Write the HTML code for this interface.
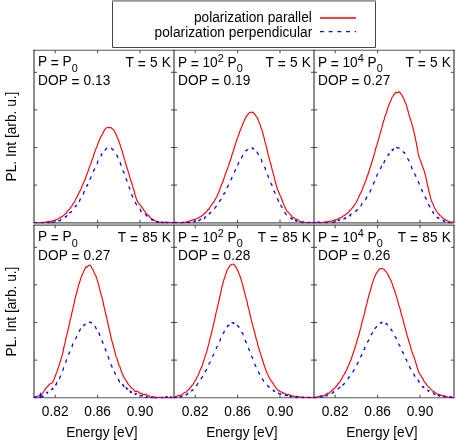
<!DOCTYPE html>
<html><head><meta charset="utf-8"><title>PL polarization</title>
<style>
html,body{margin:0;padding:0;background:#fff;}
svg{display:block;will-change:transform;}
text{font-family:"Liberation Sans",sans-serif;font-size:14.5px;fill:#000;}
.sub{font-size:11.5px;}
</style></head><body>
<svg width="463" height="445" viewBox="0 0 463 445">
<rect x="0" y="0" width="463" height="445" fill="#fff"/>
<defs>
<clipPath id="cr0"><rect x="34.0" y="50.2" width="420.0" height="173.10"/></clipPath>
<clipPath id="cr1"><rect x="34.0" y="225.2" width="420.0" height="173.10"/></clipPath>
</defs>
<g><rect x="34.0" y="223.0" width="420.0" height="1.9" fill="#c4c4c4"/><line x1="33.5" y1="50.2" x2="454.5" y2="50.2" stroke="#555" stroke-width="1.15"/><line x1="33.5" y1="222.7" x2="454.5" y2="222.7" stroke="#555" stroke-width="1.15"/><line x1="34.0" y1="49.800000000000004" x2="34.0" y2="223.1" stroke="#1a1a1a" stroke-width="1"/><line x1="174.0" y1="49.800000000000004" x2="174.0" y2="223.1" stroke="#1a1a1a" stroke-width="1"/><line x1="314.0" y1="49.800000000000004" x2="314.0" y2="223.1" stroke="#1a1a1a" stroke-width="1"/><line x1="454.0" y1="49.800000000000004" x2="454.0" y2="223.1" stroke="#1a1a1a" stroke-width="1"/><line x1="33.5" y1="225.2" x2="454.5" y2="225.2" stroke="#555" stroke-width="1.15"/><line x1="33.5" y1="397.7" x2="454.5" y2="397.7" stroke="#555" stroke-width="1.15"/><line x1="34.0" y1="224.79999999999998" x2="34.0" y2="398.09999999999997" stroke="#1a1a1a" stroke-width="1"/><line x1="174.0" y1="224.79999999999998" x2="174.0" y2="398.09999999999997" stroke="#1a1a1a" stroke-width="1"/><line x1="314.0" y1="224.79999999999998" x2="314.0" y2="398.09999999999997" stroke="#1a1a1a" stroke-width="1"/><line x1="454.0" y1="224.79999999999998" x2="454.0" y2="398.09999999999997" stroke="#1a1a1a" stroke-width="1"/></g>
<path d="M34.0,222.9 L34.5,222.7 L35.0,222.4 L35.5,222.6 L36.0,222.8 L36.5,222.7 L37.0,222.5 L37.5,222.6 L38.0,222.7 L38.5,222.8 L39.0,223.0 L39.5,222.8 L40.0,222.7 L40.5,222.8 L41.0,223.0 L41.5,222.7 L42.0,222.4 L42.5,222.5 L43.0,222.6 L43.5,222.4 L44.0,222.2 L44.5,222.3 L45.0,222.4 L45.5,222.2 L46.0,222.0 L46.5,221.9 L47.0,221.7 L47.5,221.8 L48.0,221.8 L48.5,221.9 L49.0,222.0 L49.5,221.5 L50.0,221.1 L50.5,221.2 L51.0,221.4 L51.5,221.2 L52.0,221.1 L52.5,220.9 L53.0,220.8 L53.5,220.6 L54.0,220.5 L54.5,220.2 L55.0,220.0 L55.5,219.9 L56.0,219.8 L56.5,219.5 L57.0,219.3 L57.5,219.2 L58.0,219.1 L58.5,218.6 L59.0,218.1 L59.5,218.0 L60.0,217.8 L60.5,217.3 L61.0,216.8 L61.5,216.9 L62.0,216.9 L62.5,216.4 L63.0,215.9 L63.5,215.5 L64.0,215.1 L64.5,214.5 L65.0,213.9 L65.5,213.9 L66.0,213.8 L66.5,212.9 L67.0,212.0 L67.5,211.2 L68.0,210.4 L68.5,210.0 L69.0,209.7 L69.5,209.2 L70.0,208.6 L70.5,207.7 L71.0,206.8 L71.5,206.3 L72.0,205.8 L72.5,204.8 L73.0,203.7 L73.5,203.3 L74.0,202.8 L74.5,201.9 L75.0,200.9 L75.5,199.7 L76.0,198.4 L76.5,197.8 L77.0,197.2 L77.5,196.0 L78.0,194.9 L78.5,193.8 L79.0,192.7 L79.5,191.8 L80.0,190.9 L80.5,189.9 L81.0,189.0 L81.5,187.6 L82.0,186.3 L82.5,185.1 L83.0,183.9 L83.5,182.8 L84.0,181.8 L84.5,180.8 L85.0,179.8 L85.5,178.3 L86.0,176.9 L86.5,175.5 L87.0,174.0 L87.5,172.8 L88.0,171.5 L88.5,169.9 L89.0,168.3 L89.5,167.0 L90.0,165.6 L90.5,164.4 L91.0,163.2 L91.5,161.6 L92.0,160.0 L92.5,158.8 L93.0,157.7 L93.5,155.9 L94.0,154.2 L94.5,152.7 L95.0,151.3 L95.5,149.9 L96.0,148.6 L96.5,147.5 L97.0,146.5 L97.5,144.9 L98.0,143.3 L98.5,142.2 L99.0,141.1 L99.5,139.9 L100.0,138.8 L100.5,137.5 L101.0,136.3 L101.5,135.6 L102.0,135.0 L102.5,134.0 L103.0,133.1 L103.5,132.0 L104.0,130.8 L104.5,130.1 L105.0,129.4 L105.5,128.5 L106.0,127.7 L106.5,127.7 L107.0,127.8 L107.5,127.7 L108.0,127.6 L108.5,127.6 L109.0,127.5 L109.5,127.6 L110.0,127.6 L110.5,127.6 L111.0,127.6 L111.5,128.0 L112.0,128.8 L112.5,129.1 L113.0,129.4 L113.5,129.8 L114.0,130.3 L114.5,131.2 L115.0,132.2 L115.5,133.1 L116.0,134.2 L116.5,135.5 L117.0,136.8 L117.5,137.8 L118.0,138.8 L118.5,140.2 L119.0,141.7 L119.5,143.1 L120.0,144.5 L120.5,146.2 L121.0,147.9 L121.5,149.3 L122.0,150.7 L122.5,152.4 L123.0,154.2 L123.5,155.9 L124.0,157.6 L124.5,159.2 L125.0,160.8 L125.5,162.8 L126.0,164.7 L126.5,166.2 L127.0,167.6 L127.5,169.3 L128.0,171.0 L128.5,172.6 L129.0,174.2 L129.5,176.2 L130.0,178.1 L130.5,179.7 L131.0,181.3 L131.5,182.5 L132.0,183.7 L132.5,185.7 L133.0,187.7 L133.5,189.0 L134.0,190.4 L134.5,192.5 L135.0,194.5 L135.5,196.2 L136.0,197.8 L136.5,199.2 L137.0,200.6 L137.5,201.3 L138.0,202.1 L138.5,202.8 L139.0,203.5 L139.5,204.2 L140.0,204.8 L140.5,205.5 L141.0,206.3 L141.5,206.7 L142.0,207.3 L142.5,208.1 L143.0,208.9 L143.5,209.6 L144.0,210.3 L144.5,210.9 L145.0,211.6 L145.5,212.5 L146.0,213.4 L146.5,213.9 L147.0,214.4 L147.5,214.7 L148.0,215.0 L148.5,215.4 L149.0,215.8 L149.5,216.6 L150.0,217.5 L150.5,217.9 L151.0,218.3 L151.5,218.5 L152.0,218.7 L152.5,219.4 L153.0,220.0 L153.5,219.9 L154.0,219.9 L154.5,220.3 L155.0,220.8 L155.5,221.0 L156.0,221.3 L156.5,221.4 L157.0,221.5 L157.5,221.5 L158.0,221.4 L158.5,221.8 L159.0,222.2 L159.5,222.3 L160.0,222.3 L160.5,222.4 L161.0,222.4 L161.5,222.8 L162.0,223.0 L162.5,223.0 L163.0,222.9 L163.5,222.6 L164.0,222.4 L164.5,222.3 L165.0,222.2 L165.5,222.4 L166.0,222.6 L166.5,222.7 L167.0,222.9 L167.5,223.0 L168.0,223.1 L168.5,222.7 L169.0,222.3 L169.5,222.3 L170.0,222.3 L170.5,222.4 L171.0,222.6 L171.5,222.8 L172.0,223.0 L172.5,223.2 L173.0,223.4 L173.5,223.1 L174.0,222.9" fill="none" stroke="#ff0000" stroke-width="1.15" stroke-linejoin="round" clip-path="url(#cr0)"/>
<path d="M34.0,222.9 L34.5,222.8 L35.0,223.0 L35.5,222.5 L36.0,222.6 L36.5,223.1 L37.0,222.8 L37.5,222.1 L38.0,222.5 L38.5,222.9 L39.0,222.8 L39.5,222.8 L40.0,223.2 L40.5,223.4 L41.0,222.8 L41.5,222.7 L42.0,223.4 L42.5,222.5 L43.0,223.2 L43.5,222.5 L44.0,222.7 L44.5,222.2 L45.0,222.8 L45.5,222.4 L46.0,222.6 L46.5,222.9 L47.0,222.3 L47.5,222.5 L48.0,222.4 L48.5,222.4 L49.0,223.3 L49.5,222.3 L50.0,223.5 L50.5,223.7 L51.0,221.7 L51.5,222.0 L52.0,222.9 L52.5,222.3 L53.0,222.1 L53.5,222.2 L54.0,222.1 L54.5,221.7 L55.0,221.5 L55.5,220.9 L56.0,221.4 L56.5,221.7 L57.0,221.9 L57.5,221.1 L58.0,220.8 L58.5,220.5 L59.0,220.7 L59.5,220.6 L60.0,220.8 L60.5,220.0 L61.0,219.2 L61.5,219.8 L62.0,219.2 L62.5,219.1 L63.0,218.9 L63.5,218.4 L64.0,217.8 L64.5,217.9 L65.0,217.7 L65.5,216.6 L66.0,216.8 L66.5,216.3 L67.0,215.7 L67.5,215.9 L68.0,215.4 L68.5,213.9 L69.0,214.8 L69.5,212.7 L70.0,212.7 L70.5,212.7 L71.0,212.2 L71.5,211.4 L72.0,210.6 L72.5,210.5 L73.0,209.3 L73.5,209.2 L74.0,208.7 L74.5,207.7 L75.0,206.9 L75.5,206.4 L76.0,205.3 L76.5,205.9 L77.0,204.5 L77.5,203.2 L78.0,203.4 L78.5,202.0 L79.0,201.7 L79.5,201.2 L80.0,199.6 L80.5,198.6 L81.0,198.1 L81.5,196.7 L82.0,196.7 L82.5,195.1 L83.0,194.2 L83.5,193.8 L84.0,191.7 L84.5,191.4 L85.0,190.0 L85.5,189.4 L86.0,188.3 L86.5,187.0 L87.0,185.1 L87.5,185.5 L88.0,183.2 L88.5,182.7 L89.0,181.5 L89.5,180.8 L90.0,179.3 L90.5,178.0 L91.0,177.3 L91.5,176.0 L92.0,175.2 L92.5,174.5 L93.0,172.6 L93.5,171.3 L94.0,170.0 L94.5,169.4 L95.0,167.8 L95.5,166.8 L96.0,165.5 L96.5,164.6 L97.0,164.0 L97.5,162.9 L98.0,160.9 L98.5,160.3 L99.0,159.2 L99.5,158.4 L100.0,157.4 L100.5,156.6 L101.0,156.0 L101.5,153.9 L102.0,154.6 L102.5,152.6 L103.0,152.3 L103.5,151.9 L104.0,150.9 L104.5,150.4 L105.0,150.3 L105.5,149.2 L106.0,149.0 L106.5,148.7 L107.0,148.0 L107.5,147.8 L108.0,148.1 L108.5,148.0 L109.0,147.6 L109.5,147.9 L110.0,147.4 L110.5,148.1 L111.0,148.1 L111.5,148.1 L112.0,149.0 L112.5,149.5 L113.0,149.8 L113.5,149.9 L114.0,150.3 L114.5,150.9 L115.0,152.5 L115.5,152.6 L116.0,153.6 L116.5,154.4 L117.0,155.5 L117.5,156.9 L118.0,157.5 L118.5,158.7 L119.0,160.0 L119.5,160.6 L120.0,161.8 L120.5,163.8 L121.0,165.0 L121.5,166.1 L122.0,167.1 L122.5,168.3 L123.0,170.7 L123.5,172.1 L124.0,172.3 L124.5,174.2 L125.0,176.3 L125.5,176.5 L126.0,178.0 L126.5,180.2 L127.0,180.9 L127.5,182.5 L128.0,184.3 L128.5,184.9 L129.0,187.0 L129.5,187.8 L130.0,190.4 L130.5,191.3 L131.0,193.1 L131.5,193.2 L132.0,195.5 L132.5,196.4 L133.0,197.6 L133.5,198.5 L134.0,199.7 L134.5,201.3 L135.0,202.0 L135.5,202.7 L136.0,203.9 L136.5,204.6 L137.0,205.8 L137.5,206.5 L138.0,207.2 L138.5,207.5 L139.0,208.8 L139.5,209.2 L140.0,209.2 L140.5,209.9 L141.0,211.6 L141.5,211.3 L142.0,212.0 L142.5,212.1 L143.0,212.9 L143.5,213.6 L144.0,213.7 L144.5,214.5 L145.0,214.3 L145.5,214.7 L146.0,214.8 L146.5,215.0 L147.0,216.2 L147.5,216.2 L148.0,217.2 L148.5,216.9 L149.0,217.5 L149.5,217.9 L150.0,218.0 L150.5,218.7 L151.0,219.0 L151.5,219.1 L152.0,220.2 L152.5,219.7 L153.0,219.8 L153.5,220.3 L154.0,220.5 L154.5,220.5 L155.0,220.2 L155.5,221.7 L156.0,221.6 L156.5,221.0 L157.0,222.4 L157.5,221.6 L158.0,222.4 L158.5,222.1 L159.0,221.9 L159.5,222.8 L160.0,222.2 L160.5,222.2 L161.0,223.3 L161.5,222.0 L162.0,222.2 L162.5,223.5 L163.0,222.1 L163.5,223.2 L164.0,223.2 L164.5,222.7 L165.0,222.9 L165.5,223.5 L166.0,222.0 L166.5,222.8 L167.0,222.3 L167.5,223.0 L168.0,222.6 L168.5,222.6 L169.0,222.1 L169.5,222.8 L170.0,222.5 L170.5,223.0 L171.0,222.3 L171.5,222.2 L172.0,222.7 L172.5,223.0 L173.0,222.5 L173.5,222.7 L174.0,222.6" fill="none" stroke="#0000ff" stroke-width="1.25" stroke-dasharray="3.6 5.1" stroke-linejoin="round" clip-path="url(#cr0)"/>
<path d="M174.0,223.2 L174.5,222.7 L175.0,222.1 L175.5,222.7 L176.0,223.2 L176.5,223.0 L177.0,222.7 L177.5,222.5 L178.0,222.3 L178.5,222.6 L179.0,222.9 L179.5,222.9 L180.0,222.9 L180.5,222.9 L181.0,222.9 L181.5,223.1 L182.0,223.2 L182.5,222.9 L183.0,222.5 L183.5,222.3 L184.0,222.1 L184.5,222.3 L185.0,222.4 L185.5,222.5 L186.0,222.5 L186.5,222.0 L187.0,221.5 L187.5,221.4 L188.0,221.2 L188.5,221.2 L189.0,221.2 L189.5,221.1 L190.0,221.1 L190.5,220.7 L191.0,220.3 L191.5,220.4 L192.0,220.4 L192.5,220.1 L193.0,219.8 L193.5,219.9 L194.0,219.9 L194.5,219.6 L195.0,219.3 L195.5,219.0 L196.0,218.8 L196.5,218.7 L197.0,218.6 L197.5,218.3 L198.0,218.0 L198.5,217.9 L199.0,217.7 L199.5,217.3 L200.0,217.0 L200.5,216.9 L201.0,216.8 L201.5,216.2 L202.0,215.6 L202.5,215.4 L203.0,215.2 L203.5,214.4 L204.0,213.5 L204.5,213.5 L205.0,213.4 L205.5,212.7 L206.0,212.1 L206.5,211.7 L207.0,211.3 L207.5,210.3 L208.0,209.4 L208.5,209.4 L209.0,209.5 L209.5,208.3 L210.0,207.2 L210.5,206.5 L211.0,205.9 L211.5,205.1 L212.0,204.3 L212.5,203.5 L213.0,202.6 L213.5,202.2 L214.0,201.9 L214.5,200.8 L215.0,199.6 L215.5,198.9 L216.0,198.0 L216.5,197.2 L217.0,196.4 L217.5,195.2 L218.0,193.9 L218.5,192.7 L219.0,191.5 L219.5,190.2 L220.0,188.8 L220.5,187.4 L221.0,185.9 L221.5,184.8 L222.0,183.7 L222.5,182.6 L223.0,181.6 L223.5,180.0 L224.0,178.4 L224.5,176.7 L225.0,175.0 L225.5,173.8 L226.0,172.5 L226.5,171.3 L227.0,170.1 L227.5,168.6 L228.0,167.1 L228.5,165.6 L229.0,164.2 L229.5,162.8 L230.0,161.4 L230.5,160.0 L231.0,158.5 L231.5,156.7 L232.0,154.9 L232.5,153.5 L233.0,152.1 L233.5,150.3 L234.0,148.5 L234.5,147.0 L235.0,145.6 L235.5,143.9 L236.0,142.2 L236.5,140.6 L237.0,139.0 L237.5,137.9 L238.0,136.7 L238.5,135.3 L239.0,134.0 L239.5,132.4 L240.0,130.9 L240.5,129.8 L241.0,128.7 L241.5,127.4 L242.0,126.1 L242.5,124.7 L243.0,123.4 L243.5,122.3 L244.0,121.3 L244.5,120.1 L245.0,119.0 L245.5,117.9 L246.0,116.9 L246.5,116.2 L247.0,115.5 L247.5,115.0 L248.0,114.5 L248.5,113.8 L249.0,113.2 L249.5,112.8 L250.0,112.4 L250.5,112.3 L251.0,112.2 L251.5,112.3 L252.0,112.4 L252.5,112.4 L253.0,112.4 L253.5,112.8 L254.0,113.3 L254.5,113.9 L255.0,114.6 L255.5,115.3 L256.0,116.0 L256.5,116.6 L257.0,117.2 L257.5,118.3 L258.0,119.5 L258.5,120.9 L259.0,122.3 L259.5,123.2 L260.0,124.2 L260.5,126.1 L261.0,127.9 L261.5,129.0 L262.0,130.1 L262.5,132.0 L263.0,133.9 L263.5,135.7 L264.0,137.4 L264.5,139.7 L265.0,141.9 L265.5,143.7 L266.0,145.4 L266.5,147.2 L267.0,149.0 L267.5,151.6 L268.0,154.1 L268.5,155.8 L269.0,157.5 L269.5,159.5 L270.0,161.4 L270.5,163.0 L271.0,164.7 L271.5,166.9 L272.0,169.2 L272.5,171.1 L273.0,172.9 L273.5,174.6 L274.0,176.2 L274.5,178.5 L275.0,180.7 L275.5,182.5 L276.0,184.4 L276.5,186.1 L277.0,187.7 L277.5,189.6 L278.0,190.6 L278.5,191.7 L279.0,192.8 L279.5,193.9 L280.0,195.2 L280.5,196.2 L281.0,197.2 L281.5,198.2 L282.0,199.7 L282.5,201.2 L283.0,202.6 L283.5,203.9 L284.0,205.1 L284.5,206.4 L285.0,207.6 L285.5,208.4 L286.0,209.1 L286.5,210.3 L287.0,211.2 L287.5,211.6 L288.0,212.0 L288.5,212.6 L289.0,213.2 L289.5,213.7 L290.0,214.2 L290.5,214.6 L291.0,215.0 L291.5,216.0 L292.0,217.0 L292.5,217.2 L293.0,217.4 L293.5,217.6 L294.0,217.8 L294.5,218.2 L295.0,218.6 L295.5,219.0 L296.0,219.3 L296.5,219.3 L297.0,219.3 L297.5,219.7 L298.0,220.1 L298.5,220.4 L299.0,220.7 L299.5,221.1 L300.0,221.5 L300.5,221.6 L301.0,221.8 L301.5,221.7 L302.0,221.7 L302.5,221.6 L303.0,221.6 L303.5,221.9 L304.0,222.3 L304.5,222.3 L305.0,222.4 L305.5,222.5 L306.0,222.6 L306.5,222.9 L307.0,223.2 L307.5,222.9 L308.0,222.6 L308.5,222.5 L309.0,222.4 L309.5,222.6 L310.0,222.8 L310.5,222.7 L311.0,222.6 L311.5,222.8 L312.0,223.0 L312.5,222.9 L313.0,222.8 L313.5,222.7 L314.0,222.6" fill="none" stroke="#ff0000" stroke-width="1.15" stroke-linejoin="round" clip-path="url(#cr0)"/>
<path d="M174.0,223.0 L174.5,222.8 L175.0,222.5 L175.5,222.9 L176.0,222.9 L176.5,222.9 L177.0,222.4 L177.5,222.7 L178.0,223.3 L178.5,222.6 L179.0,222.1 L179.5,222.4 L180.0,222.4 L180.5,223.0 L181.0,223.2 L181.5,222.9 L182.0,222.3 L182.5,222.8 L183.0,222.7 L183.5,222.5 L184.0,222.4 L184.5,223.5 L185.0,222.9 L185.5,222.5 L186.0,222.8 L186.5,222.3 L187.0,223.1 L187.5,222.6 L188.0,222.6 L188.5,222.7 L189.0,222.6 L189.5,222.2 L190.0,222.9 L190.5,222.0 L191.0,222.0 L191.5,222.5 L192.0,222.0 L192.5,221.5 L193.0,220.9 L193.5,221.4 L194.0,222.0 L194.5,221.0 L195.0,221.3 L195.5,220.7 L196.0,220.1 L196.5,220.3 L197.0,221.7 L197.5,220.3 L198.0,220.6 L198.5,220.7 L199.0,220.3 L199.5,220.6 L200.0,219.8 L200.5,219.3 L201.0,219.3 L201.5,219.2 L202.0,218.9 L202.5,219.4 L203.0,219.1 L203.5,219.3 L204.0,217.7 L204.5,218.7 L205.0,216.8 L205.5,217.0 L206.0,216.9 L206.5,215.5 L207.0,216.3 L207.5,215.4 L208.0,214.8 L208.5,214.5 L209.0,214.1 L209.5,213.2 L210.0,213.3 L210.5,212.5 L211.0,212.1 L211.5,211.9 L212.0,211.1 L212.5,210.9 L213.0,210.3 L213.5,209.9 L214.0,208.7 L214.5,208.8 L215.0,207.8 L215.5,207.2 L216.0,206.8 L216.5,205.4 L217.0,205.3 L217.5,204.3 L218.0,203.5 L218.5,203.2 L219.0,202.9 L219.5,201.8 L220.0,200.3 L220.5,200.1 L221.0,199.6 L221.5,198.4 L222.0,197.4 L222.5,196.8 L223.0,196.7 L223.5,195.0 L224.0,193.3 L224.5,193.5 L225.0,192.2 L225.5,190.3 L226.0,190.6 L226.5,189.3 L227.0,188.0 L227.5,187.0 L228.0,186.2 L228.5,184.8 L229.0,184.0 L229.5,183.2 L230.0,181.7 L230.5,180.9 L231.0,179.6 L231.5,178.8 L232.0,177.3 L232.5,176.2 L233.0,175.1 L233.5,174.4 L234.0,172.5 L234.5,172.0 L235.0,170.8 L235.5,169.9 L236.0,169.2 L236.5,166.7 L237.0,167.0 L237.5,166.5 L238.0,164.1 L238.5,162.7 L239.0,162.8 L239.5,161.8 L240.0,160.4 L240.5,160.4 L241.0,158.3 L241.5,157.9 L242.0,156.8 L242.5,155.7 L243.0,155.1 L243.5,154.2 L244.0,154.1 L244.5,152.8 L245.0,152.6 L245.5,152.0 L246.0,150.5 L246.5,150.7 L247.0,149.8 L247.5,149.8 L248.0,149.4 L248.5,148.6 L249.0,148.1 L249.5,148.7 L250.0,147.9 L250.5,147.8 L251.0,147.9 L251.5,147.9 L252.0,147.7 L252.5,148.2 L253.0,149.2 L253.5,148.5 L254.0,149.3 L254.5,148.8 L255.0,149.7 L255.5,150.3 L256.0,150.2 L256.5,151.1 L257.0,151.7 L257.5,153.0 L258.0,153.4 L258.5,154.7 L259.0,154.9 L259.5,156.1 L260.0,157.2 L260.5,158.4 L261.0,159.2 L261.5,159.9 L262.0,162.1 L262.5,162.5 L263.0,163.0 L263.5,165.0 L264.0,165.6 L264.5,167.0 L265.0,167.5 L265.5,169.4 L266.0,171.1 L266.5,171.9 L267.0,174.0 L267.5,174.1 L268.0,176.0 L268.5,177.5 L269.0,178.3 L269.5,179.0 L270.0,180.8 L270.5,181.6 L271.0,183.2 L271.5,184.4 L272.0,185.4 L272.5,187.3 L273.0,187.7 L273.5,189.8 L274.0,191.3 L274.5,191.6 L275.0,192.9 L275.5,194.0 L276.0,195.7 L276.5,197.2 L277.0,198.0 L277.5,198.7 L278.0,200.1 L278.5,201.4 L279.0,202.2 L279.5,201.4 L280.0,203.3 L280.5,204.5 L281.0,205.7 L281.5,206.6 L282.0,207.4 L282.5,208.8 L283.0,209.7 L283.5,210.3 L284.0,210.9 L284.5,212.7 L285.0,212.6 L285.5,213.1 L286.0,214.4 L286.5,214.8 L287.0,214.6 L287.5,215.1 L288.0,216.0 L288.5,216.3 L289.0,216.6 L289.5,216.9 L290.0,217.8 L290.5,218.1 L291.0,218.0 L291.5,218.3 L292.0,219.3 L292.5,218.9 L293.0,220.1 L293.5,219.0 L294.0,219.1 L294.5,220.7 L295.0,221.1 L295.5,220.4 L296.0,221.1 L296.5,220.6 L297.0,222.0 L297.5,221.5 L298.0,221.9 L298.5,221.8 L299.0,222.2 L299.5,221.8 L300.0,222.3 L300.5,222.5 L301.0,222.8 L301.5,222.3 L302.0,223.0 L302.5,223.1 L303.0,223.1 L303.5,222.6 L304.0,222.6 L304.5,223.0 L305.0,222.5 L305.5,222.9 L306.0,222.2 L306.5,222.9 L307.0,222.4 L307.5,222.3 L308.0,222.6 L308.5,223.2 L309.0,222.9 L309.5,222.3 L310.0,222.7 L310.5,223.2 L311.0,222.4 L311.5,222.6 L312.0,223.5 L312.5,222.1 L313.0,223.3 L313.5,222.5 L314.0,223.0" fill="none" stroke="#0000ff" stroke-width="1.25" stroke-dasharray="3.6 5.1" stroke-linejoin="round" clip-path="url(#cr0)"/>
<path d="M314.0,223.0 L314.5,222.8 L315.0,222.6 L315.5,222.8 L316.0,223.0 L316.5,222.9 L317.0,222.8 L317.5,222.4 L318.0,222.0 L318.5,222.3 L319.0,222.5 L319.5,222.7 L320.0,222.8 L320.5,222.7 L321.0,222.7 L321.5,222.6 L322.0,222.6 L322.5,222.4 L323.0,222.2 L323.5,222.3 L324.0,222.3 L324.5,222.1 L325.0,221.9 L325.5,222.0 L326.0,222.2 L326.5,222.0 L327.0,221.8 L327.5,221.7 L328.0,221.6 L328.5,221.7 L329.0,221.7 L329.5,221.4 L330.0,221.1 L330.5,221.2 L331.0,221.3 L331.5,221.1 L332.0,221.0 L332.5,220.8 L333.0,220.6 L333.5,220.6 L334.0,220.7 L334.5,220.2 L335.0,219.7 L335.5,219.9 L336.0,220.0 L336.5,219.8 L337.0,219.5 L337.5,219.2 L338.0,218.9 L338.5,218.5 L339.0,218.2 L339.5,218.0 L340.0,217.9 L340.5,217.9 L341.0,217.9 L341.5,217.4 L342.0,217.0 L342.5,216.5 L343.0,216.0 L343.5,215.9 L344.0,215.7 L344.5,215.4 L345.0,215.1 L345.5,214.6 L346.0,214.1 L346.5,213.8 L347.0,213.6 L347.5,213.1 L348.0,212.6 L348.5,212.2 L349.0,211.7 L349.5,210.9 L350.0,210.1 L350.5,210.0 L351.0,209.8 L351.5,209.0 L352.0,208.2 L352.5,207.7 L353.0,207.2 L353.5,206.4 L354.0,205.6 L354.5,204.9 L355.0,204.3 L355.5,203.5 L356.0,202.7 L356.5,201.7 L357.0,200.7 L357.5,199.8 L358.0,198.8 L358.5,197.6 L359.0,196.4 L359.5,195.3 L360.0,194.2 L360.5,193.6 L361.0,192.9 L361.5,191.7 L362.0,190.5 L362.5,188.9 L363.0,187.3 L363.5,186.1 L364.0,185.0 L364.5,183.8 L365.0,182.5 L365.5,181.4 L366.0,180.2 L366.5,178.5 L367.0,176.7 L367.5,175.5 L368.0,174.2 L368.5,172.8 L369.0,171.3 L369.5,169.6 L370.0,168.0 L370.5,166.6 L371.0,165.3 L371.5,163.4 L372.0,161.5 L372.5,160.0 L373.0,158.5 L373.5,156.9 L374.0,155.2 L374.5,153.4 L375.0,151.6 L375.5,149.6 L376.0,147.5 L376.5,146.1 L377.0,144.7 L377.5,142.9 L378.0,141.1 L378.5,139.3 L379.0,137.6 L379.5,135.9 L380.0,134.2 L380.5,132.3 L381.0,130.4 L381.5,128.8 L382.0,127.2 L382.5,125.2 L383.0,123.2 L383.5,121.5 L384.0,120.0 L384.5,118.1 L385.0,116.4 L385.5,115.2 L386.0,114.0 L386.5,112.3 L387.0,110.6 L387.5,109.0 L388.0,107.4 L388.5,106.1 L389.0,104.7 L389.5,103.5 L390.0,102.3 L390.5,101.2 L391.0,100.2 L391.5,98.9 L392.0,97.7 L392.5,97.0 L393.0,96.3 L393.5,95.3 L394.0,94.4 L394.5,93.9 L395.0,93.6 L395.5,92.9 L396.0,92.4 L396.5,92.4 L397.0,92.6 L397.5,92.6 L398.0,92.5 L398.5,92.1 L399.0,91.6 L399.5,92.1 L400.0,92.7 L400.5,93.4 L401.0,94.2 L401.5,94.7 L402.0,95.2 L402.5,96.3 L403.0,97.5 L403.5,98.3 L404.0,99.1 L404.5,100.5 L405.0,102.1 L405.5,103.0 L406.0,104.0 L406.5,105.6 L407.0,107.3 L407.5,109.0 L408.0,110.8 L408.5,112.8 L409.0,114.9 L409.5,116.4 L410.0,118.0 L410.5,119.5 L411.0,121.1 L411.5,122.7 L412.0,124.4 L412.5,126.1 L413.0,127.8 L413.5,129.9 L414.0,132.4 L414.5,134.5 L415.0,136.7 L415.5,139.0 L416.0,141.4 L416.5,144.1 L417.0,146.8 L417.5,149.3 L418.0,152.4 L418.5,155.1 L419.0,156.9 L419.5,158.2 L420.0,159.4 L420.5,160.7 L421.0,161.9 L421.5,163.5 L422.0,165.1 L422.5,166.3 L423.0,167.6 L423.5,169.0 L424.0,170.4 L424.5,172.0 L425.0,173.8 L425.5,175.6 L426.0,177.7 L426.5,180.1 L427.0,182.6 L427.5,184.7 L428.0,186.8 L428.5,189.4 L429.0,192.0 L429.5,193.8 L430.0,195.4 L430.5,197.4 L431.0,199.2 L431.5,200.6 L432.0,201.9 L432.5,203.0 L433.0,204.0 L433.5,205.4 L434.0,206.8 L434.5,207.7 L435.0,208.5 L435.5,209.6 L436.0,210.7 L436.5,211.2 L437.0,211.7 L437.5,212.5 L438.0,213.2 L438.5,213.7 L439.0,214.2 L439.5,214.9 L440.0,215.7 L440.5,215.8 L441.0,216.0 L441.5,216.6 L442.0,217.1 L442.5,217.7 L443.0,218.3 L443.5,218.6 L444.0,218.8 L444.5,219.3 L445.0,219.6 L445.5,219.8 L446.0,220.0 L446.5,220.3 L447.0,220.7 L447.5,220.9 L448.0,221.0 L448.5,221.2 L449.0,221.3 L449.5,221.7 L450.0,222.0 L450.5,222.2 L451.0,222.4 L451.5,222.1 L452.0,221.7 L452.5,222.3 L453.0,222.9 L453.5,222.8 L454.0,222.8" fill="none" stroke="#ff0000" stroke-width="1.15" stroke-linejoin="round" clip-path="url(#cr0)"/>
<path d="M314.0,222.7 L314.5,223.6 L315.0,222.5 L315.5,222.6 L316.0,222.7 L316.5,221.7 L317.0,223.4 L317.5,222.3 L318.0,222.7 L318.5,221.9 L319.0,221.9 L319.5,223.0 L320.0,222.6 L320.5,222.9 L321.0,223.1 L321.5,222.6 L322.0,222.0 L322.5,221.8 L323.0,222.3 L323.5,222.4 L324.0,222.1 L324.5,222.6 L325.0,222.4 L325.5,223.2 L326.0,223.0 L326.5,222.9 L327.0,222.5 L327.5,222.8 L328.0,222.4 L328.5,222.6 L329.0,223.0 L329.5,222.7 L330.0,222.6 L330.5,222.8 L331.0,222.2 L331.5,222.6 L332.0,222.5 L332.5,222.4 L333.0,222.6 L333.5,222.6 L334.0,222.2 L334.5,221.3 L335.0,221.6 L335.5,222.0 L336.0,220.9 L336.5,221.7 L337.0,221.6 L337.5,221.1 L338.0,221.4 L338.5,220.0 L339.0,220.7 L339.5,219.9 L340.0,220.3 L340.5,220.2 L341.0,219.3 L341.5,219.6 L342.0,219.7 L342.5,219.0 L343.0,218.7 L343.5,219.5 L344.0,218.9 L344.5,218.6 L345.0,218.0 L345.5,218.4 L346.0,218.0 L346.5,217.7 L347.0,216.5 L347.5,217.2 L348.0,216.5 L348.5,216.2 L349.0,215.7 L349.5,215.2 L350.0,215.8 L350.5,215.3 L351.0,214.1 L351.5,214.2 L352.0,213.8 L352.5,213.4 L353.0,213.3 L353.5,212.4 L354.0,212.6 L354.5,212.6 L355.0,211.8 L355.5,211.1 L356.0,211.1 L356.5,210.3 L357.0,210.1 L357.5,209.3 L358.0,209.2 L358.5,208.2 L359.0,207.5 L359.5,208.0 L360.0,206.9 L360.5,206.3 L361.0,205.9 L361.5,204.7 L362.0,203.3 L362.5,203.4 L363.0,203.0 L363.5,202.7 L364.0,201.8 L364.5,200.7 L365.0,199.7 L365.5,199.6 L366.0,198.6 L366.5,197.6 L367.0,196.6 L367.5,195.6 L368.0,195.3 L368.5,193.9 L369.0,193.0 L369.5,192.7 L370.0,191.7 L370.5,190.5 L371.0,189.5 L371.5,187.7 L372.0,186.8 L372.5,185.7 L373.0,184.8 L373.5,183.6 L374.0,182.4 L374.5,181.7 L375.0,180.6 L375.5,178.6 L376.0,178.5 L376.5,176.7 L377.0,175.3 L377.5,174.2 L378.0,172.8 L378.5,172.5 L379.0,171.4 L379.5,170.8 L380.0,170.0 L380.5,168.6 L381.0,167.5 L381.5,166.6 L382.0,165.4 L382.5,164.9 L383.0,163.9 L383.5,161.8 L384.0,162.9 L384.5,160.9 L385.0,160.3 L385.5,158.7 L386.0,158.2 L386.5,157.6 L387.0,157.5 L387.5,156.4 L388.0,155.5 L388.5,154.2 L389.0,154.5 L389.5,153.1 L390.0,152.9 L390.5,151.7 L391.0,151.2 L391.5,151.6 L392.0,149.7 L392.5,150.5 L393.0,149.6 L393.5,148.8 L394.0,149.3 L394.5,148.9 L395.0,147.8 L395.5,147.8 L396.0,148.0 L396.5,146.7 L397.0,147.6 L397.5,147.9 L398.0,147.8 L398.5,148.1 L399.0,148.0 L399.5,148.0 L400.0,148.7 L400.5,148.7 L401.0,149.9 L401.5,150.1 L402.0,150.7 L402.5,151.0 L403.0,151.3 L403.5,152.2 L404.0,152.6 L404.5,152.5 L405.0,154.5 L405.5,155.0 L406.0,155.9 L406.5,156.8 L407.0,157.8 L407.5,158.1 L408.0,159.1 L408.5,159.9 L409.0,161.0 L409.5,162.4 L410.0,163.1 L410.5,164.7 L411.0,165.6 L411.5,166.8 L412.0,168.7 L412.5,169.5 L413.0,169.4 L413.5,170.9 L414.0,172.6 L414.5,173.6 L415.0,174.7 L415.5,175.1 L416.0,177.1 L416.5,178.5 L417.0,179.6 L417.5,179.7 L418.0,180.9 L418.5,182.4 L419.0,183.3 L419.5,184.8 L420.0,185.8 L420.5,187.6 L421.0,188.3 L421.5,189.8 L422.0,190.0 L422.5,191.7 L423.0,193.1 L423.5,193.5 L424.0,194.6 L424.5,196.1 L425.0,196.2 L425.5,198.2 L426.0,198.4 L426.5,199.4 L427.0,201.8 L427.5,202.4 L428.0,203.5 L428.5,205.0 L429.0,205.4 L429.5,206.0 L430.0,207.6 L430.5,208.4 L431.0,208.7 L431.5,210.0 L432.0,210.5 L432.5,212.1 L433.0,211.6 L433.5,213.3 L434.0,213.4 L434.5,214.5 L435.0,215.5 L435.5,215.3 L436.0,216.3 L436.5,216.8 L437.0,217.6 L437.5,217.8 L438.0,217.3 L438.5,217.8 L439.0,218.7 L439.5,219.2 L440.0,218.9 L440.5,220.1 L441.0,220.2 L441.5,220.1 L442.0,219.6 L442.5,220.3 L443.0,220.4 L443.5,220.6 L444.0,221.7 L444.5,221.5 L445.0,221.0 L445.5,222.3 L446.0,222.1 L446.5,222.7 L447.0,221.7 L447.5,221.4 L448.0,221.9 L448.5,222.5 L449.0,222.9 L449.5,223.2 L450.0,223.1 L450.5,223.2 L451.0,222.0 L451.5,222.4 L452.0,223.7 L452.5,222.7 L453.0,222.7 L453.5,223.0 L454.0,223.3" fill="none" stroke="#0000ff" stroke-width="1.25" stroke-dasharray="3.6 5.1" stroke-linejoin="round" clip-path="url(#cr0)"/>
<path d="M34.0,397.9 L34.5,397.4 L35.0,396.9 L35.5,396.9 L36.0,396.8 L36.5,396.7 L37.0,396.6 L37.5,396.4 L38.0,396.1 L38.5,396.0 L39.0,395.8 L39.5,395.4 L40.0,394.9 L40.5,395.2 L41.0,395.3 L41.5,394.6 L42.0,393.7 L42.5,393.4 L43.0,392.7 L43.5,392.0 L44.0,391.2 L44.5,390.2 L45.0,389.4 L45.5,388.8 L46.0,388.2 L46.5,387.7 L47.0,387.1 L47.5,386.7 L48.0,386.3 L48.5,385.3 L49.0,384.7 L49.5,384.3 L50.0,383.9 L50.5,383.7 L51.0,383.5 L51.5,383.3 L52.0,383.1 L52.5,382.4 L53.0,381.5 L53.5,380.6 L54.0,379.5 L54.5,378.2 L55.0,376.8 L55.5,375.5 L56.0,374.1 L56.5,372.9 L57.0,371.7 L57.5,370.1 L58.0,368.5 L58.5,367.1 L59.0,365.6 L59.5,364.0 L60.0,362.3 L60.5,360.6 L61.0,358.9 L61.5,357.3 L62.0,355.7 L62.5,353.9 L63.0,352.1 L63.5,349.4 L64.0,346.7 L64.5,344.9 L65.0,343.1 L65.5,340.5 L66.0,337.9 L66.5,336.2 L67.0,334.4 L67.5,332.2 L68.0,330.0 L68.5,328.0 L69.0,325.9 L69.5,323.3 L70.0,320.6 L70.5,318.8 L71.0,317.1 L71.5,314.7 L72.0,312.4 L72.5,310.3 L73.0,308.2 L73.5,306.1 L74.0,304.1 L74.5,301.4 L75.0,298.8 L75.5,297.0 L76.0,295.3 L76.5,293.3 L77.0,291.3 L77.5,289.5 L78.0,287.7 L78.5,285.7 L79.0,283.7 L79.5,282.3 L80.0,281.0 L80.5,279.3 L81.0,277.6 L81.5,276.4 L82.0,275.3 L82.5,274.2 L83.0,273.2 L83.5,271.9 L84.0,270.6 L84.5,269.6 L85.0,268.6 L85.5,267.7 L86.0,266.9 L86.5,267.0 L87.0,267.2 L87.5,266.6 L88.0,266.0 L88.5,265.6 L89.0,265.2 L89.5,265.1 L90.0,265.3 L90.5,265.6 L91.0,266.3 L91.5,267.4 L92.0,268.6 L92.5,269.1 L93.0,269.7 L93.5,270.9 L94.0,272.2 L94.5,273.3 L95.0,274.5 L95.5,275.3 L96.0,276.2 L96.5,277.7 L97.0,279.4 L97.5,280.9 L98.0,282.5 L98.5,284.3 L99.0,286.1 L99.5,288.2 L100.0,290.3 L100.5,292.3 L101.0,294.3 L101.5,295.9 L102.0,297.6 L102.5,299.5 L103.0,301.6 L103.5,304.1 L104.0,306.7 L104.5,308.7 L105.0,310.8 L105.5,312.9 L106.0,315.0 L106.5,317.0 L107.0,319.0 L107.5,321.4 L108.0,323.8 L108.5,326.0 L109.0,328.2 L109.5,330.3 L110.0,332.3 L110.5,334.9 L111.0,337.5 L111.5,339.4 L112.0,341.2 L112.5,342.9 L113.0,344.6 L113.5,346.6 L114.0,348.5 L114.5,350.4 L115.0,352.3 L115.5,354.5 L116.0,356.7 L116.5,357.5 L117.0,358.2 L117.5,360.3 L118.0,362.2 L118.5,363.7 L119.0,365.2 L119.5,366.1 L120.0,367.1 L120.5,368.7 L121.0,370.3 L121.5,371.9 L122.0,373.4 L122.5,374.3 L123.0,375.1 L123.5,376.3 L124.0,377.5 L124.5,378.1 L125.0,378.7 L125.5,379.7 L126.0,380.7 L126.5,381.2 L127.0,381.6 L127.5,382.8 L128.0,383.9 L128.5,384.6 L129.0,385.2 L129.5,385.7 L130.0,386.1 L130.5,386.6 L131.0,387.1 L131.5,387.8 L132.0,388.5 L132.5,388.7 L133.0,388.8 L133.5,389.5 L134.0,390.2 L134.5,391.0 L135.0,391.7 L135.5,391.3 L136.0,390.9 L136.5,391.1 L137.0,391.2 L137.5,391.4 L138.0,391.6 L138.5,392.2 L139.0,392.8 L139.5,393.1 L140.0,393.4 L140.5,393.3 L141.0,393.2 L141.5,393.2 L142.0,393.3 L142.5,394.0 L143.0,394.7 L143.5,394.5 L144.0,394.2 L144.5,394.4 L145.0,394.6 L145.5,394.6 L146.0,394.5 L146.5,394.8 L147.0,395.0 L147.5,395.4 L148.0,395.8 L148.5,395.8 L149.0,395.7 L149.5,396.4 L150.0,397.0 L150.5,397.6 L151.0,398.2 L151.5,397.3 L152.0,396.4 L152.5,396.7 L153.0,396.9 L153.5,396.8 L154.0,396.7 L154.5,397.4 L155.0,398.1 L155.5,397.9 L156.0,397.8 L156.5,397.5 L157.0,397.3 L157.5,397.6 L158.0,397.8 L158.5,397.6 L159.0,397.3 L159.5,397.3 L160.0,397.3 L160.5,397.4 L161.0,397.4 L161.5,397.6 L162.0,397.8 L162.5,397.9 L163.0,398.0 L163.5,398.1 L164.0,398.2 L164.5,397.9 L165.0,397.5 L165.5,397.2 L166.0,397.0 L166.5,397.3 L167.0,397.7 L167.5,397.7 L168.0,397.8 L168.5,397.8 L169.0,397.8 L169.5,398.1 L170.0,398.3 L170.5,398.0 L171.0,397.7 L171.5,397.6 L172.0,397.5 L172.5,397.6 L173.0,397.6 L173.5,397.2 L174.0,396.8" fill="none" stroke="#ff0000" stroke-width="1.15" stroke-linejoin="round" clip-path="url(#cr1)"/>
<path d="M34.0,397.0 L34.5,397.5 L35.0,397.4 L35.5,396.8 L36.0,397.0 L36.5,397.2 L37.0,397.7 L37.5,397.8 L38.0,397.6 L38.5,397.6 L39.0,397.5 L39.5,397.5 L40.0,397.1 L40.5,397.3 L41.0,397.0 L41.5,396.7 L42.0,395.7 L42.5,396.3 L43.0,397.0 L43.5,395.3 L44.0,395.0 L44.5,394.5 L45.0,394.5 L45.5,393.6 L46.0,393.7 L46.5,392.8 L47.0,392.1 L47.5,393.4 L48.0,392.0 L48.5,392.2 L49.0,391.3 L49.5,391.0 L50.0,391.4 L50.5,390.7 L51.0,389.9 L51.5,389.6 L52.0,389.5 L52.5,388.2 L53.0,389.1 L53.5,388.5 L54.0,387.3 L54.5,387.5 L55.0,386.1 L55.5,384.8 L56.0,385.0 L56.5,383.4 L57.0,382.4 L57.5,382.6 L58.0,380.5 L58.5,380.4 L59.0,378.8 L59.5,378.8 L60.0,377.1 L60.5,375.9 L61.0,374.3 L61.5,373.3 L62.0,372.3 L62.5,371.5 L63.0,370.0 L63.5,367.9 L64.0,367.1 L64.5,365.3 L65.0,364.2 L65.5,363.2 L66.0,361.8 L66.5,359.0 L67.0,358.3 L67.5,357.5 L68.0,356.4 L68.5,354.8 L69.0,353.1 L69.5,352.9 L70.0,351.0 L70.5,350.1 L71.0,348.5 L71.5,348.1 L72.0,347.1 L72.5,344.9 L73.0,343.6 L73.5,342.6 L74.0,342.0 L74.5,340.2 L75.0,340.1 L75.5,339.0 L76.0,338.0 L76.5,336.9 L77.0,334.7 L77.5,334.4 L78.0,333.0 L78.5,332.7 L79.0,332.0 L79.5,330.9 L80.0,329.9 L80.5,328.8 L81.0,328.9 L81.5,327.6 L82.0,327.2 L82.5,326.1 L83.0,326.5 L83.5,325.1 L84.0,325.7 L84.5,325.1 L85.0,324.5 L85.5,324.0 L86.0,323.8 L86.5,322.3 L87.0,322.0 L87.5,322.4 L88.0,322.0 L88.5,321.6 L89.0,321.9 L89.5,322.0 L90.0,322.5 L90.5,322.7 L91.0,322.2 L91.5,323.2 L92.0,323.3 L92.5,323.7 L93.0,323.4 L93.5,324.6 L94.0,324.8 L94.5,326.0 L95.0,326.3 L95.5,327.4 L96.0,328.1 L96.5,329.1 L97.0,330.9 L97.5,330.4 L98.0,331.6 L98.5,332.9 L99.0,333.0 L99.5,334.5 L100.0,336.0 L100.5,336.7 L101.0,338.9 L101.5,339.6 L102.0,341.3 L102.5,341.8 L103.0,343.1 L103.5,344.9 L104.0,346.0 L104.5,347.2 L105.0,349.0 L105.5,348.9 L106.0,351.3 L106.5,353.3 L107.0,354.0 L107.5,355.9 L108.0,356.5 L108.5,357.3 L109.0,359.6 L109.5,360.6 L110.0,362.2 L110.5,363.5 L111.0,364.4 L111.5,365.7 L112.0,366.6 L112.5,368.9 L113.0,368.7 L113.5,370.8 L114.0,371.2 L114.5,372.5 L115.0,373.0 L115.5,374.8 L116.0,375.1 L116.5,376.3 L117.0,376.9 L117.5,378.3 L118.0,378.8 L118.5,379.6 L119.0,380.6 L119.5,382.1 L120.0,381.7 L120.5,382.2 L121.0,382.8 L121.5,383.9 L122.0,385.5 L122.5,384.9 L123.0,384.7 L123.5,385.5 L124.0,387.3 L124.5,386.4 L125.0,388.0 L125.5,388.8 L126.0,387.4 L126.5,388.4 L127.0,389.3 L127.5,388.8 L128.0,390.5 L128.5,390.2 L129.0,390.9 L129.5,391.0 L130.0,390.0 L130.5,392.3 L131.0,391.6 L131.5,392.4 L132.0,391.9 L132.5,393.3 L133.0,393.4 L133.5,393.0 L134.0,393.4 L134.5,393.1 L135.0,394.5 L135.5,393.9 L136.0,393.3 L136.5,394.1 L137.0,394.3 L137.5,395.0 L138.0,394.3 L138.5,394.3 L139.0,394.4 L139.5,395.3 L140.0,394.8 L140.5,395.6 L141.0,395.1 L141.5,395.8 L142.0,395.6 L142.5,395.8 L143.0,396.0 L143.5,396.0 L144.0,396.4 L144.5,396.7 L145.0,395.7 L145.5,396.2 L146.0,397.6 L146.5,396.3 L147.0,397.5 L147.5,397.1 L148.0,397.1 L148.5,396.7 L149.0,397.5 L149.5,397.5 L150.0,397.7 L150.5,397.5 L151.0,397.4 L151.5,398.2 L152.0,397.0 L152.5,398.6 L153.0,398.9 L153.5,397.2 L154.0,397.5 L154.5,396.7 L155.0,398.7 L155.5,397.2 L156.0,397.7 L156.5,397.6 L157.0,398.0 L157.5,397.9 L158.0,397.7 L158.5,397.7 L159.0,397.4 L159.5,398.3 L160.0,398.1 L160.5,398.2 L161.0,397.8 L161.5,398.9 L162.0,397.6 L162.5,397.4 L163.0,396.4 L163.5,398.5 L164.0,397.5 L164.5,397.5 L165.0,397.8 L165.5,397.9 L166.0,397.2 L166.5,397.0 L167.0,396.4 L167.5,398.3 L168.0,398.4 L168.5,396.9 L169.0,397.0 L169.5,397.7 L170.0,397.7 L170.5,397.4 L171.0,396.5 L171.5,398.1 L172.0,398.3 L172.5,397.3 L173.0,397.6 L173.5,398.2 L174.0,397.9" fill="none" stroke="#0000ff" stroke-width="1.25" stroke-dasharray="3.6 5.1" stroke-linejoin="round" clip-path="url(#cr1)"/>
<path d="M174.0,396.9 L174.5,396.9 L175.0,396.9 L175.5,396.6 L176.0,396.3 L176.5,396.2 L177.0,396.0 L177.5,395.8 L178.0,395.6 L178.5,395.8 L179.0,396.0 L179.5,395.5 L180.0,395.0 L180.5,395.1 L181.0,395.2 L181.5,395.0 L182.0,394.8 L182.5,394.3 L183.0,393.8 L183.5,393.4 L184.0,392.9 L184.5,392.8 L185.0,392.7 L185.5,392.4 L186.0,392.1 L186.5,391.7 L187.0,391.2 L187.5,390.5 L188.0,389.8 L188.5,389.6 L189.0,389.4 L189.5,388.7 L190.0,388.0 L190.5,387.5 L191.0,386.9 L191.5,386.1 L192.0,385.4 L192.5,384.9 L193.0,384.4 L193.5,383.6 L194.0,382.7 L194.5,381.8 L195.0,380.9 L195.5,380.1 L196.0,379.4 L196.5,378.2 L197.0,377.1 L197.5,376.3 L198.0,375.5 L198.5,374.3 L199.0,373.2 L199.5,371.9 L200.0,370.5 L200.5,369.5 L201.0,368.3 L201.5,367.4 L202.0,366.3 L202.5,364.6 L203.0,362.7 L203.5,361.3 L204.0,359.8 L204.5,358.4 L205.0,356.8 L205.5,355.4 L206.0,353.9 L206.5,352.3 L207.0,350.7 L207.5,348.7 L208.0,346.7 L208.5,344.9 L209.0,343.1 L209.5,340.8 L210.0,338.5 L210.5,336.9 L211.0,335.3 L211.5,332.9 L212.0,330.6 L212.5,328.8 L213.0,326.9 L213.5,324.7 L214.0,322.4 L214.5,320.4 L215.0,318.3 L215.5,315.7 L216.0,313.1 L216.5,311.1 L217.0,309.2 L217.5,307.0 L218.0,304.7 L218.5,302.6 L219.0,300.4 L219.5,298.2 L220.0,296.0 L220.5,293.8 L221.0,291.6 L221.5,289.1 L222.0,286.7 L222.5,284.9 L223.0,283.1 L223.5,281.1 L224.0,279.3 L224.5,278.0 L225.0,276.8 L225.5,275.1 L226.0,273.6 L226.5,271.8 L227.0,270.1 L227.5,269.4 L228.0,268.8 L228.5,267.8 L229.0,267.0 L229.5,266.3 L230.0,265.6 L230.5,265.2 L231.0,264.8 L231.5,264.5 L232.0,264.2 L232.5,264.2 L233.0,264.2 L233.5,264.2 L234.0,264.3 L234.5,265.1 L235.0,266.1 L235.5,266.5 L236.0,267.0 L236.5,268.2 L237.0,269.4 L237.5,270.2 L238.0,271.1 L238.5,272.3 L239.0,273.7 L239.5,274.9 L240.0,276.3 L240.5,277.7 L241.0,279.2 L241.5,280.9 L242.0,282.7 L242.5,284.4 L243.0,286.2 L243.5,288.2 L244.0,290.2 L244.5,292.1 L245.0,294.1 L245.5,296.1 L246.0,298.0 L246.5,299.6 L247.0,301.2 L247.5,303.8 L248.0,306.5 L248.5,308.1 L249.0,309.8 L249.5,312.1 L250.0,314.5 L250.5,316.6 L251.0,318.6 L251.5,320.6 L252.0,322.7 L252.5,324.7 L253.0,326.7 L253.5,328.3 L254.0,330.0 L254.5,331.8 L255.0,333.6 L255.5,335.9 L256.0,338.3 L256.5,339.7 L257.0,341.0 L257.5,343.3 L258.0,345.5 L258.5,347.1 L259.0,348.7 L259.5,350.4 L260.0,352.1 L260.5,353.7 L261.0,355.3 L261.5,356.9 L262.0,358.5 L262.5,360.0 L263.0,361.4 L263.5,363.1 L264.0,364.8 L264.5,366.2 L265.0,367.5 L265.5,369.0 L266.0,370.5 L266.5,371.8 L267.0,373.1 L267.5,374.0 L268.0,374.8 L268.5,376.1 L269.0,377.4 L269.5,378.2 L270.0,378.9 L270.5,379.7 L271.0,380.5 L271.5,381.1 L272.0,381.9 L272.5,382.6 L273.0,383.2 L273.5,384.2 L274.0,385.1 L274.5,385.7 L275.0,386.3 L275.5,387.1 L276.0,387.8 L276.5,388.5 L277.0,389.1 L277.5,389.9 L278.0,390.4 L278.5,390.6 L279.0,390.8 L279.5,391.1 L280.0,391.4 L280.5,391.7 L281.0,392.0 L281.5,392.0 L282.0,392.2 L282.5,392.9 L283.0,393.6 L283.5,393.3 L284.0,393.1 L284.5,393.3 L285.0,393.6 L285.5,394.0 L286.0,394.4 L286.5,394.5 L287.0,394.6 L287.5,394.5 L288.0,394.4 L288.5,394.4 L289.0,394.5 L289.5,394.8 L290.0,395.2 L290.5,395.5 L291.0,395.8 L291.5,395.7 L292.0,395.7 L292.5,395.9 L293.0,396.1 L293.5,396.1 L294.0,396.2 L294.5,396.2 L295.0,396.2 L295.5,396.4 L296.0,396.5 L296.5,396.3 L297.0,396.2 L297.5,396.6 L298.0,397.1 L298.5,397.0 L299.0,396.8 L299.5,396.8 L300.0,396.8 L300.5,397.0 L301.0,397.2 L301.5,397.2 L302.0,397.1 L302.5,397.1 L303.0,397.0 L303.5,397.4 L304.0,397.7 L304.5,397.7 L305.0,397.6 L305.5,397.5 L306.0,397.3 L306.5,397.3 L307.0,397.3 L307.5,397.3 L308.0,397.3 L308.5,397.5 L309.0,397.7 L309.5,397.7 L310.0,397.7 L310.5,397.5 L311.0,397.3 L311.5,397.7 L312.0,398.0 L312.5,397.7 L313.0,397.3 L313.5,397.3 L314.0,397.3" fill="none" stroke="#ff0000" stroke-width="1.15" stroke-linejoin="round" clip-path="url(#cr1)"/>
<path d="M174.0,397.9 L174.5,398.0 L175.0,397.6 L175.5,397.4 L176.0,397.9 L176.5,397.3 L177.0,397.7 L177.5,396.5 L178.0,397.7 L178.5,396.7 L179.0,396.7 L179.5,396.6 L180.0,396.9 L180.5,397.0 L181.0,396.6 L181.5,396.7 L182.0,396.1 L182.5,396.0 L183.0,396.2 L183.5,395.9 L184.0,396.3 L184.5,395.1 L185.0,395.8 L185.5,394.5 L186.0,394.7 L186.5,395.0 L187.0,394.4 L187.5,394.0 L188.0,393.2 L188.5,393.9 L189.0,393.1 L189.5,392.7 L190.0,392.6 L190.5,391.4 L191.0,391.6 L191.5,390.5 L192.0,390.2 L192.5,390.6 L193.0,389.7 L193.5,388.7 L194.0,388.6 L194.5,387.0 L195.0,387.2 L195.5,387.0 L196.0,386.4 L196.5,385.5 L197.0,385.1 L197.5,384.0 L198.0,383.2 L198.5,382.6 L199.0,382.5 L199.5,381.0 L200.0,380.9 L200.5,379.9 L201.0,378.9 L201.5,377.8 L202.0,377.4 L202.5,376.9 L203.0,374.9 L203.5,374.9 L204.0,373.8 L204.5,372.7 L205.0,372.5 L205.5,371.0 L206.0,370.4 L206.5,369.8 L207.0,367.7 L207.5,366.8 L208.0,366.6 L208.5,365.2 L209.0,363.6 L209.5,363.2 L210.0,362.5 L210.5,361.3 L211.0,360.2 L211.5,358.9 L212.0,358.3 L212.5,356.7 L213.0,355.6 L213.5,354.9 L214.0,353.6 L214.5,351.8 L215.0,351.5 L215.5,350.3 L216.0,349.0 L216.5,347.9 L217.0,346.6 L217.5,346.5 L218.0,344.2 L218.5,343.3 L219.0,343.1 L219.5,341.7 L220.0,340.8 L220.5,338.8 L221.0,337.4 L221.5,337.3 L222.0,335.7 L222.5,335.4 L223.0,333.6 L223.5,333.1 L224.0,332.0 L224.5,331.0 L225.0,330.2 L225.5,329.3 L226.0,329.5 L226.5,327.9 L227.0,327.9 L227.5,326.3 L228.0,325.3 L228.5,325.4 L229.0,325.7 L229.5,324.1 L230.0,323.6 L230.5,322.9 L231.0,323.6 L231.5,323.6 L232.0,322.6 L232.5,322.9 L233.0,322.9 L233.5,322.6 L234.0,323.7 L234.5,323.0 L235.0,324.1 L235.5,323.4 L236.0,323.8 L236.5,324.9 L237.0,325.6 L237.5,325.5 L238.0,326.0 L238.5,326.1 L239.0,327.7 L239.5,328.6 L240.0,329.1 L240.5,330.0 L241.0,330.6 L241.5,331.8 L242.0,332.7 L242.5,332.9 L243.0,334.2 L243.5,335.7 L244.0,336.3 L244.5,337.9 L245.0,339.4 L245.5,341.1 L246.0,342.1 L246.5,343.1 L247.0,344.9 L247.5,345.8 L248.0,346.9 L248.5,347.8 L249.0,349.9 L249.5,350.4 L250.0,352.3 L250.5,352.6 L251.0,354.9 L251.5,355.8 L252.0,357.0 L252.5,358.3 L253.0,359.5 L253.5,361.6 L254.0,362.2 L254.5,363.0 L255.0,365.1 L255.5,365.9 L256.0,366.6 L256.5,368.1 L257.0,369.7 L257.5,369.9 L258.0,371.1 L258.5,372.0 L259.0,373.1 L259.5,374.2 L260.0,374.1 L260.5,376.0 L261.0,376.1 L261.5,377.5 L262.0,378.0 L262.5,379.5 L263.0,379.8 L263.5,381.1 L264.0,381.8 L264.5,382.8 L265.0,383.2 L265.5,383.4 L266.0,383.9 L266.5,384.4 L267.0,384.9 L267.5,385.2 L268.0,386.3 L268.5,386.6 L269.0,387.2 L269.5,387.0 L270.0,388.0 L270.5,388.1 L271.0,389.5 L271.5,389.9 L272.0,389.6 L272.5,389.7 L273.0,389.8 L273.5,390.8 L274.0,391.4 L274.5,390.8 L275.0,392.1 L275.5,392.1 L276.0,392.2 L276.5,393.1 L277.0,393.1 L277.5,392.5 L278.0,393.3 L278.5,393.0 L279.0,393.8 L279.5,393.8 L280.0,393.6 L280.5,394.0 L281.0,394.0 L281.5,393.9 L282.0,394.8 L282.5,395.1 L283.0,395.3 L283.5,395.3 L284.0,395.5 L284.5,394.9 L285.0,395.7 L285.5,395.1 L286.0,395.3 L286.5,395.6 L287.0,395.7 L287.5,395.3 L288.0,394.4 L288.5,396.2 L289.0,395.4 L289.5,396.1 L290.0,396.9 L290.5,395.6 L291.0,396.7 L291.5,396.5 L292.0,396.6 L292.5,397.0 L293.0,396.4 L293.5,397.0 L294.0,397.1 L294.5,396.3 L295.0,397.0 L295.5,397.1 L296.0,397.1 L296.5,396.6 L297.0,397.8 L297.5,397.2 L298.0,397.5 L298.5,397.2 L299.0,397.3 L299.5,397.5 L300.0,397.3 L300.5,397.8 L301.0,398.0 L301.5,397.6 L302.0,397.1 L302.5,397.9 L303.0,398.4 L303.5,397.2 L304.0,397.7 L304.5,398.2 L305.0,397.8 L305.5,397.6 L306.0,397.5 L306.5,397.6 L307.0,398.4 L307.5,397.8 L308.0,398.2 L308.5,398.1 L309.0,397.2 L309.5,397.6 L310.0,398.0 L310.5,397.5 L311.0,397.8 L311.5,398.2 L312.0,397.2 L312.5,398.2 L313.0,397.8 L313.5,398.5 L314.0,398.3" fill="none" stroke="#0000ff" stroke-width="1.25" stroke-dasharray="3.6 5.1" stroke-linejoin="round" clip-path="url(#cr1)"/>
<path d="M314.0,397.5 L314.5,397.3 L315.0,397.1 L315.5,397.2 L316.0,397.3 L316.5,397.2 L317.0,397.1 L317.5,396.8 L318.0,396.5 L318.5,396.4 L319.0,396.3 L319.5,396.4 L320.0,396.6 L320.5,396.2 L321.0,395.8 L321.5,395.8 L322.0,395.8 L322.5,396.0 L323.0,396.1 L323.5,395.9 L324.0,395.6 L324.5,395.4 L325.0,395.2 L325.5,394.7 L326.0,394.2 L326.5,394.0 L327.0,393.7 L327.5,393.4 L328.0,393.1 L328.5,393.2 L329.0,393.2 L329.5,392.8 L330.0,392.3 L330.5,391.8 L331.0,391.4 L331.5,391.1 L332.0,390.8 L332.5,390.2 L333.0,389.7 L333.5,389.2 L334.0,388.6 L334.5,388.3 L335.0,387.9 L335.5,387.2 L336.0,386.5 L336.5,386.0 L337.0,385.5 L337.5,384.6 L338.0,383.7 L338.5,383.3 L339.0,383.0 L339.5,382.4 L340.0,381.8 L340.5,380.8 L341.0,379.8 L341.5,379.1 L342.0,378.4 L342.5,377.4 L343.0,376.3 L343.5,375.5 L344.0,374.7 L344.5,373.8 L345.0,372.9 L345.5,371.9 L346.0,370.9 L346.5,370.0 L347.0,369.2 L347.5,367.8 L348.0,366.4 L348.5,365.4 L349.0,364.4 L349.5,363.1 L350.0,361.7 L350.5,360.8 L351.0,359.9 L351.5,358.3 L352.0,356.6 L352.5,355.2 L353.0,353.7 L353.5,352.2 L354.0,350.7 L354.5,349.2 L355.0,347.6 L355.5,346.0 L356.0,344.4 L356.5,342.6 L357.0,340.8 L357.5,339.2 L358.0,337.5 L358.5,336.2 L359.0,334.8 L359.5,332.6 L360.0,330.4 L360.5,328.7 L361.0,326.9 L361.5,324.7 L362.0,322.4 L362.5,320.5 L363.0,318.6 L363.5,316.9 L364.0,315.2 L364.5,313.1 L365.0,310.9 L365.5,308.7 L366.0,306.5 L366.5,304.9 L367.0,303.2 L367.5,301.0 L368.0,298.9 L368.5,296.8 L369.0,294.7 L369.5,293.3 L370.0,291.9 L370.5,289.9 L371.0,288.0 L371.5,286.2 L372.0,284.4 L372.5,282.9 L373.0,281.4 L373.5,279.9 L374.0,278.5 L374.5,277.4 L375.0,276.3 L375.5,275.1 L376.0,274.0 L376.5,273.1 L377.0,272.3 L377.5,271.6 L378.0,271.0 L378.5,270.1 L379.0,269.3 L379.5,269.0 L380.0,268.9 L380.5,268.7 L381.0,268.6 L381.5,268.6 L382.0,268.8 L382.5,268.7 L383.0,268.7 L383.5,269.1 L384.0,269.5 L384.5,270.0 L385.0,270.4 L385.5,271.1 L386.0,271.7 L386.5,272.4 L387.0,273.0 L387.5,273.9 L388.0,274.8 L388.5,275.8 L389.0,276.9 L389.5,277.8 L390.0,278.7 L390.5,279.7 L391.0,280.8 L391.5,281.9 L392.0,283.1 L392.5,284.7 L393.0,286.3 L393.5,287.7 L394.0,289.1 L394.5,290.3 L395.0,291.5 L395.5,293.3 L396.0,295.0 L396.5,296.4 L397.0,297.9 L397.5,300.0 L398.0,302.1 L398.5,303.9 L399.0,305.7 L399.5,307.0 L400.0,308.4 L400.5,310.5 L401.0,312.6 L401.5,314.6 L402.0,316.6 L402.5,318.0 L403.0,319.4 L403.5,321.7 L404.0,323.9 L404.5,325.7 L405.0,327.4 L405.5,329.3 L406.0,331.1 L406.5,333.0 L407.0,335.0 L407.5,336.6 L408.0,338.1 L408.5,340.0 L409.0,341.8 L409.5,343.3 L410.0,344.7 L410.5,346.7 L411.0,348.6 L411.5,350.3 L412.0,351.9 L412.5,353.3 L413.0,354.7 L413.5,355.8 L414.0,357.0 L414.5,358.6 L415.0,360.1 L415.5,361.7 L416.0,363.3 L416.5,365.1 L417.0,367.1 L417.5,368.5 L418.0,369.9 L418.5,371.7 L419.0,372.8 L419.5,373.6 L420.0,374.3 L420.5,375.0 L421.0,375.7 L421.5,376.7 L422.0,377.7 L422.5,378.2 L423.0,378.7 L423.5,380.0 L424.0,381.4 L424.5,381.9 L425.0,382.4 L425.5,383.2 L426.0,383.9 L426.5,384.7 L427.0,385.3 L427.5,386.0 L428.0,386.6 L428.5,387.0 L429.0,387.3 L429.5,387.7 L430.0,388.1 L430.5,388.8 L431.0,389.4 L431.5,389.9 L432.0,390.4 L432.5,390.8 L433.0,391.1 L433.5,391.4 L434.0,391.7 L434.5,392.1 L435.0,392.5 L435.5,392.9 L436.0,393.3 L436.5,393.7 L437.0,394.0 L437.5,394.1 L438.0,394.1 L438.5,394.3 L439.0,394.5 L439.5,394.8 L440.0,395.2 L440.5,395.1 L441.0,394.9 L441.5,395.4 L442.0,395.8 L442.5,395.8 L443.0,395.8 L443.5,395.8 L444.0,395.7 L444.5,396.0 L445.0,396.2 L445.5,396.3 L446.0,396.3 L446.5,396.6 L447.0,396.9 L447.5,397.1 L448.0,397.2 L448.5,397.2 L449.0,397.3 L449.5,397.1 L450.0,396.9 L450.5,397.0 L451.0,397.2 L451.5,397.4 L452.0,397.7 L452.5,398.1 L453.0,398.4 L453.5,397.9 L454.0,397.4" fill="none" stroke="#ff0000" stroke-width="1.15" stroke-linejoin="round" clip-path="url(#cr1)"/>
<path d="M314.0,396.9 L314.5,397.7 L315.0,398.1 L315.5,397.9 L316.0,397.7 L316.5,397.8 L317.0,397.2 L317.5,397.1 L318.0,397.1 L318.5,398.1 L319.0,397.1 L319.5,397.3 L320.0,397.0 L320.5,397.2 L321.0,396.2 L321.5,396.1 L322.0,396.9 L322.5,396.9 L323.0,396.2 L323.5,396.3 L324.0,396.3 L324.5,395.3 L325.0,396.4 L325.5,395.6 L326.0,396.1 L326.5,395.2 L327.0,395.5 L327.5,394.9 L328.0,394.8 L328.5,395.5 L329.0,394.7 L329.5,394.5 L330.0,394.0 L330.5,393.9 L331.0,393.0 L331.5,392.7 L332.0,393.2 L332.5,393.0 L333.0,393.0 L333.5,391.7 L334.0,392.1 L334.5,391.8 L335.0,391.2 L335.5,390.2 L336.0,390.5 L336.5,390.1 L337.0,389.6 L337.5,389.5 L338.0,388.9 L338.5,388.3 L339.0,388.0 L339.5,387.7 L340.0,387.4 L340.5,387.1 L341.0,388.1 L341.5,385.7 L342.0,386.0 L342.5,385.5 L343.0,384.6 L343.5,384.8 L344.0,383.9 L344.5,383.5 L345.0,383.0 L345.5,382.0 L346.0,381.2 L346.5,380.8 L347.0,380.7 L347.5,379.5 L348.0,378.8 L348.5,377.4 L349.0,377.1 L349.5,377.0 L350.0,376.4 L350.5,376.3 L351.0,375.3 L351.5,374.3 L352.0,373.3 L352.5,372.5 L353.0,371.9 L353.5,370.8 L354.0,370.3 L354.5,368.7 L355.0,368.5 L355.5,367.3 L356.0,366.1 L356.5,365.1 L357.0,364.4 L357.5,363.6 L358.0,362.6 L358.5,361.4 L359.0,359.9 L359.5,359.1 L360.0,358.6 L360.5,357.0 L361.0,355.9 L361.5,355.8 L362.0,353.2 L362.5,353.3 L363.0,351.6 L363.5,350.8 L364.0,349.3 L364.5,349.4 L365.0,347.1 L365.5,346.4 L366.0,345.7 L366.5,344.9 L367.0,343.2 L367.5,342.3 L368.0,341.1 L368.5,340.8 L369.0,338.9 L369.5,338.4 L370.0,337.4 L370.5,335.9 L371.0,334.5 L371.5,334.7 L372.0,333.5 L372.5,332.7 L373.0,332.0 L373.5,330.7 L374.0,329.0 L374.5,329.6 L375.0,328.6 L375.5,327.7 L376.0,327.7 L376.5,326.6 L377.0,326.6 L377.5,325.3 L378.0,324.2 L378.5,324.0 L379.0,323.4 L379.5,323.7 L380.0,323.0 L380.5,322.9 L381.0,322.7 L381.5,323.2 L382.0,322.1 L382.5,322.5 L383.0,322.9 L383.5,322.2 L384.0,323.0 L384.5,323.6 L385.0,323.1 L385.5,323.9 L386.0,323.7 L386.5,323.4 L387.0,324.3 L387.5,325.0 L388.0,325.2 L388.5,325.7 L389.0,327.3 L389.5,327.0 L390.0,327.7 L390.5,328.3 L391.0,329.6 L391.5,329.6 L392.0,330.7 L392.5,332.2 L393.0,332.9 L393.5,333.4 L394.0,334.3 L394.5,335.0 L395.0,336.1 L395.5,337.6 L396.0,337.8 L396.5,339.0 L397.0,339.5 L397.5,340.7 L398.0,341.9 L398.5,343.1 L399.0,344.9 L399.5,345.2 L400.0,345.9 L400.5,346.9 L401.0,349.1 L401.5,349.3 L402.0,350.1 L402.5,352.3 L403.0,352.4 L403.5,353.7 L404.0,355.3 L404.5,356.3 L405.0,356.9 L405.5,358.3 L406.0,359.5 L406.5,359.6 L407.0,361.5 L407.5,362.8 L408.0,363.6 L408.5,365.1 L409.0,365.2 L409.5,366.2 L410.0,367.9 L410.5,368.8 L411.0,369.1 L411.5,370.4 L412.0,370.9 L412.5,371.8 L413.0,372.7 L413.5,374.0 L414.0,374.2 L414.5,376.1 L415.0,376.2 L415.5,377.6 L416.0,378.0 L416.5,378.2 L417.0,379.5 L417.5,380.4 L418.0,380.0 L418.5,381.3 L419.0,382.1 L419.5,381.8 L420.0,383.3 L420.5,384.4 L421.0,384.3 L421.5,385.0 L422.0,385.7 L422.5,386.2 L423.0,387.4 L423.5,386.8 L424.0,387.6 L424.5,388.1 L425.0,388.3 L425.5,388.6 L426.0,388.8 L426.5,388.9 L427.0,389.2 L427.5,390.9 L428.0,390.2 L428.5,391.5 L429.0,390.6 L429.5,391.9 L430.0,391.9 L430.5,392.5 L431.0,392.5 L431.5,392.9 L432.0,392.8 L432.5,393.4 L433.0,392.9 L433.5,393.0 L434.0,394.2 L434.5,394.4 L435.0,394.4 L435.5,393.9 L436.0,395.2 L436.5,395.0 L437.0,394.2 L437.5,395.6 L438.0,395.1 L438.5,395.6 L439.0,396.2 L439.5,395.4 L440.0,395.9 L440.5,396.4 L441.0,396.2 L441.5,395.6 L442.0,396.2 L442.5,395.6 L443.0,396.9 L443.5,396.4 L444.0,395.8 L444.5,396.6 L445.0,397.2 L445.5,397.0 L446.0,396.8 L446.5,397.0 L447.0,396.8 L447.5,397.0 L448.0,397.8 L448.5,397.3 L449.0,396.8 L449.5,397.4 L450.0,397.5 L450.5,396.9 L451.0,397.4 L451.5,397.0 L452.0,397.6 L452.5,396.5 L453.0,397.6 L453.5,397.9 L454.0,397.2" fill="none" stroke="#0000ff" stroke-width="1.25" stroke-dasharray="3.6 5.1" stroke-linejoin="round" clip-path="url(#cr1)"/>
<path d="M39.3,397.9 L40.1,392.6 L40.7,392.6 L41.6,397.9 Z" fill="#0000ee"/>
<path d="M34.0,185.10h3.0M174.0,185.10h-3.0M34.0,147.50h3.0M174.0,147.50h-3.0M34.0,109.90h3.0M174.0,109.90h-3.0M34.0,72.30h3.0M174.0,72.30h-3.0M55.20,222.7v-3.0M55.20,50.2v3.0M97.60,222.7v-3.0M97.60,50.2v3.0M140.00,222.7v-3.0M140.00,50.2v3.0M174.0,185.10h3.0M314.0,185.10h-3.0M174.0,147.50h3.0M314.0,147.50h-3.0M174.0,109.90h3.0M314.0,109.90h-3.0M174.0,72.30h3.0M314.0,72.30h-3.0M195.20,222.7v-3.0M195.20,50.2v3.0M237.60,222.7v-3.0M237.60,50.2v3.0M280.00,222.7v-3.0M280.00,50.2v3.0M314.0,185.10h3.0M454.0,185.10h-3.0M314.0,147.50h3.0M454.0,147.50h-3.0M314.0,109.90h3.0M454.0,109.90h-3.0M314.0,72.30h3.0M454.0,72.30h-3.0M335.20,222.7v-3.0M335.20,50.2v3.0M377.60,222.7v-3.0M377.60,50.2v3.0M420.00,222.7v-3.0M420.00,50.2v3.0M34.0,360.10h3.0M174.0,360.10h-3.0M34.0,322.50h3.0M174.0,322.50h-3.0M34.0,284.90h3.0M174.0,284.90h-3.0M34.0,247.30h3.0M174.0,247.30h-3.0M55.20,397.7v-3.0M55.20,225.2v3.0M97.60,397.7v-3.0M97.60,225.2v3.0M140.00,397.7v-3.0M140.00,225.2v3.0M174.0,360.10h3.0M314.0,360.10h-3.0M174.0,322.50h3.0M314.0,322.50h-3.0M174.0,284.90h3.0M314.0,284.90h-3.0M174.0,247.30h3.0M314.0,247.30h-3.0M195.20,397.7v-3.0M195.20,225.2v3.0M237.60,397.7v-3.0M237.60,225.2v3.0M280.00,397.7v-3.0M280.00,225.2v3.0M314.0,360.10h3.0M454.0,360.10h-3.0M314.0,322.50h3.0M454.0,322.50h-3.0M314.0,284.90h3.0M454.0,284.90h-3.0M314.0,247.30h3.0M454.0,247.30h-3.0M335.20,397.7v-3.0M335.20,225.2v3.0M377.60,397.7v-3.0M377.60,225.2v3.0M420.00,397.7v-3.0M420.00,225.2v3.0" stroke="#444" stroke-width="1" fill="none"/>
<path d="M112.5,0 V47.5 H375.5 V0" fill="none" stroke="#3c3c3c" stroke-width="0.95"/>
<line x1="112" y1="0.8" x2="376" y2="0.8" stroke="#999" stroke-width="1.7"/>
<text transform="translate(311.80,22.40) scale(0.945,1)" text-anchor="end" textLength="124.76">polarization parallel</text>
<text transform="translate(312.30,36.60) scale(0.945,1)" text-anchor="end" textLength="166.98">polarization perpendicular</text>
<line x1="320" y1="18.0" x2="356" y2="18.0" stroke="#ff0000" stroke-width="1.45"/>
<line x1="320" y1="31.6" x2="356" y2="31.6" stroke="#0000ff" stroke-width="1.4" stroke-dasharray="3.8 4.9"/>
<text transform="translate(38.00,66.30) scale(0.945,1)">P <tspan dy="1.5">=</tspan><tspan dy="-1.5"> </tspan>P<tspan class="sub" dy="5.4">0</tspan></text>
<text transform="translate(38.00,85.00) scale(0.945,1)" textLength="76.61">DOP <tspan dy="1.5">=</tspan><tspan dy="-1.5"> </tspan>0.13</text>
<text transform="translate(171.00,67.40) scale(0.945,1)" text-anchor="end" textLength="48.25">T <tspan dy="1.5">=</tspan><tspan dy="-1.5"> </tspan>5 K</text>
<text transform="translate(178.00,67.40) scale(0.945,1)">P <tspan dy="1.5">=</tspan><tspan dy="-1.5"> </tspan>10<tspan class="sub" dy="-5.9">2</tspan><tspan dy="5.9"> P</tspan><tspan class="sub" dy="4.7">0</tspan></text>
<text transform="translate(178.00,85.00) scale(0.945,1)" textLength="76.61">DOP <tspan dy="1.5">=</tspan><tspan dy="-1.5"> </tspan>0.19</text>
<text transform="translate(311.00,67.40) scale(0.945,1)" text-anchor="end" textLength="48.25">T <tspan dy="1.5">=</tspan><tspan dy="-1.5"> </tspan>5 K</text>
<text transform="translate(318.00,67.40) scale(0.945,1)">P <tspan dy="1.5">=</tspan><tspan dy="-1.5"> </tspan>10<tspan class="sub" dy="-5.9">4</tspan><tspan dy="5.9"> P</tspan><tspan class="sub" dy="4.7">0</tspan></text>
<text transform="translate(318.00,85.00) scale(0.945,1)" textLength="76.61">DOP <tspan dy="1.5">=</tspan><tspan dy="-1.5"> </tspan>0.27</text>
<text transform="translate(451.00,67.40) scale(0.945,1)" text-anchor="end" textLength="48.25">T <tspan dy="1.5">=</tspan><tspan dy="-1.5"> </tspan>5 K</text>
<text transform="translate(38.00,241.30) scale(0.945,1)">P <tspan dy="1.5">=</tspan><tspan dy="-1.5"> </tspan>P<tspan class="sub" dy="5.4">0</tspan></text>
<text transform="translate(38.00,260.00) scale(0.945,1)" textLength="76.61">DOP <tspan dy="1.5">=</tspan><tspan dy="-1.5"> </tspan>0.27</text>
<text transform="translate(171.00,242.40) scale(0.945,1)" text-anchor="end" textLength="56.40">T <tspan dy="1.5">=</tspan><tspan dy="-1.5"> </tspan>85 K</text>
<text transform="translate(178.00,242.40) scale(0.945,1)">P <tspan dy="1.5">=</tspan><tspan dy="-1.5"> </tspan>10<tspan class="sub" dy="-5.9">2</tspan><tspan dy="5.9"> P</tspan><tspan class="sub" dy="4.7">0</tspan></text>
<text transform="translate(178.00,260.00) scale(0.945,1)" textLength="76.61">DOP <tspan dy="1.5">=</tspan><tspan dy="-1.5"> </tspan>0.28</text>
<text transform="translate(311.00,242.40) scale(0.945,1)" text-anchor="end" textLength="56.40">T <tspan dy="1.5">=</tspan><tspan dy="-1.5"> </tspan>85 K</text>
<text transform="translate(318.00,242.40) scale(0.945,1)">P <tspan dy="1.5">=</tspan><tspan dy="-1.5"> </tspan>10<tspan class="sub" dy="-5.9">4</tspan><tspan dy="5.9"> P</tspan><tspan class="sub" dy="4.7">0</tspan></text>
<text transform="translate(318.00,260.00) scale(0.945,1)" textLength="76.61">DOP <tspan dy="1.5">=</tspan><tspan dy="-1.5"> </tspan>0.26</text>
<text transform="translate(451.00,242.40) scale(0.945,1)" text-anchor="end" textLength="56.40">T <tspan dy="1.5">=</tspan><tspan dy="-1.5"> </tspan>85 K</text>
<text transform="translate(55.20,416.30) scale(0.945,1)" text-anchor="middle">0.82</text>
<text transform="translate(97.60,416.30) scale(0.945,1)" text-anchor="middle">0.86</text>
<text transform="translate(140.00,416.30) scale(0.945,1)" text-anchor="middle">0.90</text>
<text transform="translate(101.90,437.00) scale(0.945,1)" text-anchor="middle">Energy [eV]</text>
<text transform="translate(195.20,416.30) scale(0.945,1)" text-anchor="middle">0.82</text>
<text transform="translate(237.60,416.30) scale(0.945,1)" text-anchor="middle">0.86</text>
<text transform="translate(280.00,416.30) scale(0.945,1)" text-anchor="middle">0.90</text>
<text transform="translate(241.90,437.00) scale(0.945,1)" text-anchor="middle">Energy [eV]</text>
<text transform="translate(335.20,416.30) scale(0.945,1)" text-anchor="middle">0.82</text>
<text transform="translate(377.60,416.30) scale(0.945,1)" text-anchor="middle">0.86</text>
<text transform="translate(420.00,416.30) scale(0.945,1)" text-anchor="middle">0.90</text>
<text transform="translate(381.90,437.00) scale(0.945,1)" text-anchor="middle">Energy [eV]</text>
<text transform="translate(15.60,136.55) rotate(-90) scale(0.945,1)" text-anchor="middle">PL. Int [arb. u.]</text>
<text transform="translate(15.60,311.55) rotate(-90) scale(0.945,1)" text-anchor="middle">PL. Int [arb. u.]</text>
</svg></body></html>
